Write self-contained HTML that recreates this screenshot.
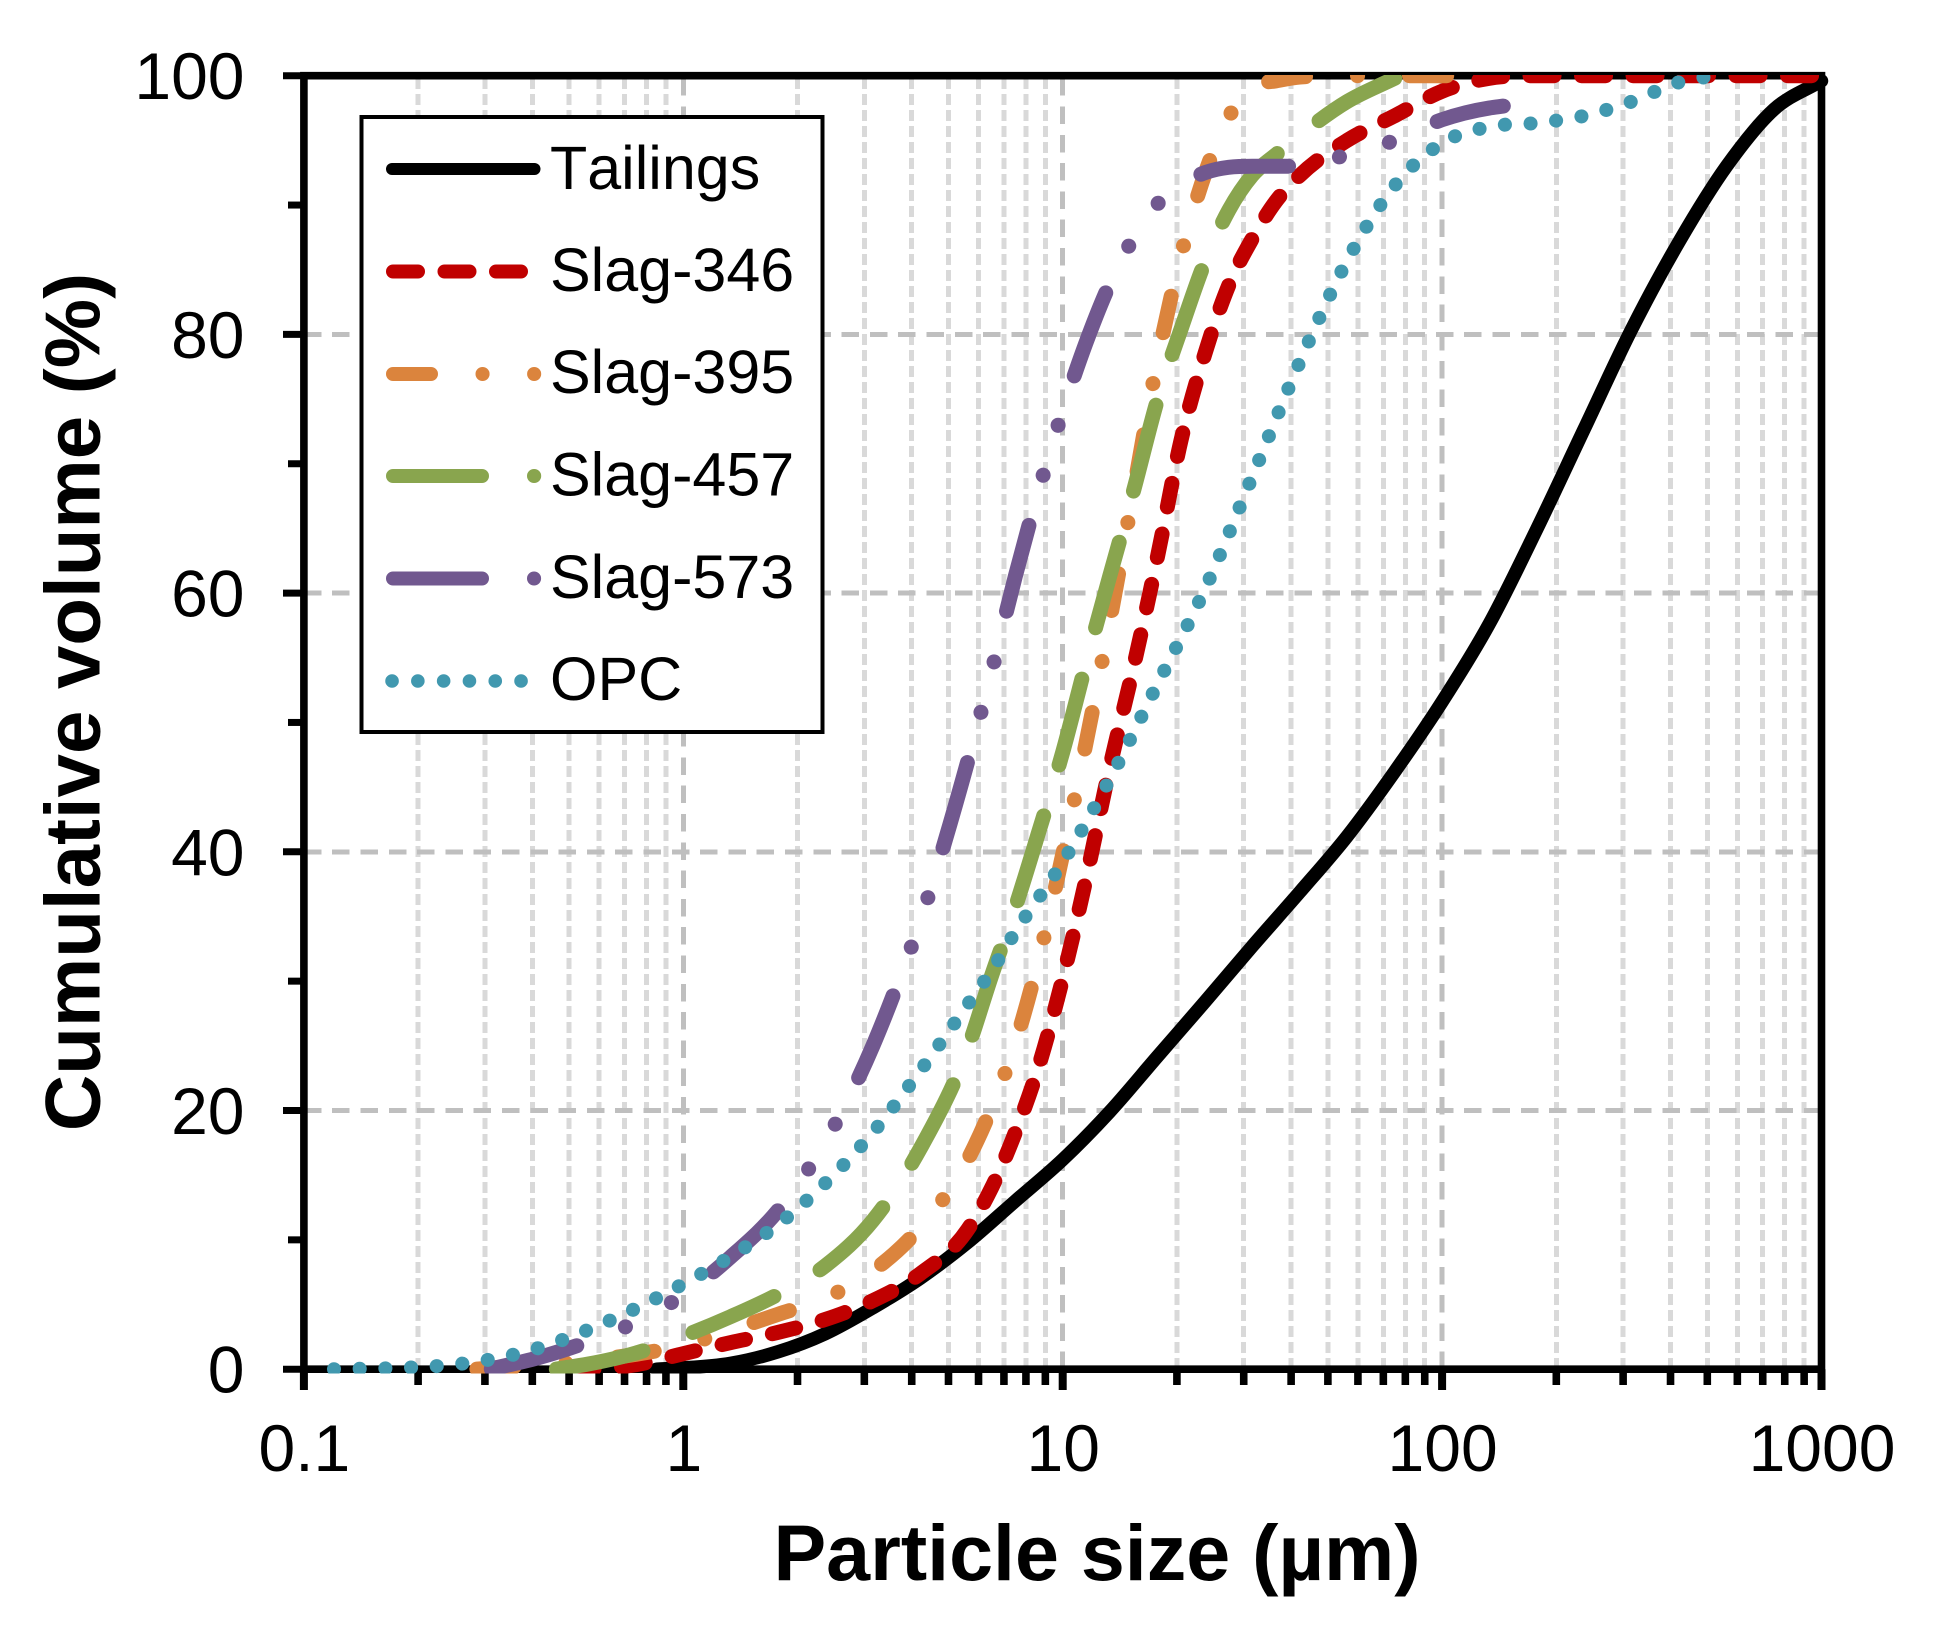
<!DOCTYPE html>
<html lang="en">
<head>
<meta charset="utf-8">
<title>Cumulative particle size distribution</title>
<style>
html,body{margin:0;padding:0;background:#fff}
svg{display:block}
text{font-family:"Liberation Sans",Arial,sans-serif;fill:#000;font-kerning:none}
</style>
</head>
<body>
<svg id="chart" width="1944" height="1634" viewBox="0 0 1944 1634" xmlns="http://www.w3.org/2000/svg">
<defs><clipPath id="plot-clip"><rect x="296" y="75" width="1534" height="1298.5"/></clipPath></defs>
<rect x="0" y="0" width="1944" height="1634" fill="#fff"/>
<g id="grid" shape-rendering="crispEdges"></g>
<g id="axes"></g>
<g id="series" clip-path="url(#plot-clip)"></g>
<text x="1097" y="1580" font-size="79" font-weight="bold" text-anchor="middle">Particle size (µm)</text>
<text x="0" y="0" transform="translate(99.5 702) rotate(-90)" font-size="78" font-weight="bold" text-anchor="middle">Cumulative volume (%)</text>
<g>
<rect x="361.5" y="117" width="461" height="615" fill="#fff" stroke="#000" stroke-width="4"/>
<g>
<line x1="392" x2="534.5" y1="169" y2="169" stroke="#000" stroke-width="12" stroke-linecap="round"/>
<text x="550" y="189" font-size="61">Tailings</text>
</g>
<g>
<line x1="393" x2="533.5" y1="271.5" y2="271.5" stroke="#C00000" stroke-width="14" stroke-linecap="round" stroke-dasharray="25 26.5"/>
<text x="550" y="291" font-size="61">Slag-346</text>
</g>
<g>
<line x1="393" x2="534.2" y1="374" y2="374" stroke="#DB843D" stroke-width="14" stroke-linecap="round" stroke-dasharray="38 51.5 0.1 51.5"/>
<text x="550" y="393" font-size="61">Slag-395</text>
</g>
<g>
<line x1="393" x2="534.2" y1="476" y2="476" stroke="#89A54E" stroke-width="14" stroke-linecap="round" stroke-dasharray="89 52"/>
<text x="550" y="495.5" font-size="61">Slag-457</text>
</g>
<g>
<line x1="393" x2="534.2" y1="578.5" y2="578.5" stroke="#71588F" stroke-width="14" stroke-linecap="round" stroke-dasharray="89 52 0.1 52 0.1 52"/>
<text x="550" y="598" font-size="61">Slag-573</text>
</g>
<g>
<line x1="392" x2="534.5" y1="681" y2="681" stroke="#4198AF" stroke-width="13.5" stroke-linecap="round" stroke-dasharray="0.1 25.7"/>
<text x="550" y="700" font-size="61">OPC</text>
</g>
</g>
</svg>
<script>
const yTicks = [0, 10, 20, 30, 40, 50, 60, 70, 80, 90, 100];
const yLabels = ["0", "20", "40", "60", "80", "100"];
const xDecades = [0.1, 1, 10, 100, 1000];
const xLabels = ["0.1", "1", "10", "100", "1000"];
const xMinorFactors = [2, 3, 4, 5, 6, 7, 8, 9];

const sizesTailings = [0.85, 1, 1.33, 1.78, 2.37, 3.16, 4.22, 5.62, 7.5, 10, 13.3, 17.8, 23.7, 31.6, 42.2, 56.2, 75, 100, 133, 178, 237, 316, 422, 562, 750, 1000];
const valuesTailings = [0, 0.1, 0.45, 1.35, 2.75, 4.75, 7.05, 9.8, 13, 16.2, 19.9, 24.2, 28.4, 32.7, 36.9, 41.2, 46.2, 51.6, 57.6, 65, 72.7, 80.4, 87.2, 93, 97.4, 99.6];

const sizes346 = [0.5, 0.562, 0.75, 1, 1.33, 1.78, 2.37, 3.16, 4.22, 5.62, 6.49, 7.5, 8.66, 10, 11.5, 13.3, 15.4, 17.8, 20.5, 23.7, 27.4, 31.6, 36.5, 42.2, 56.2, 75, 100, 133, 178, 237, 316, 422, 562, 750, 1000];
const values346 = [0, 0.02, 0.35, 1.2, 2.05, 2.85, 3.85, 5.3, 7.4, 10.8, 14, 18.3, 23.5, 30.2, 37.8, 46.5, 54.4, 62.9, 71.8, 78.5, 83.8, 87.4, 90.3, 92.3, 95, 96.9, 98.8, 99.8, 100, 100, 100, 100, 100, 100, 100];

const sizes395 = [0.284, 0.316, 0.422, 0.562, 0.75, 1, 1.33, 1.78, 2.37, 3.16, 4.22, 5.62, 6.49, 7.5, 8.66, 10, 11.5, 13.3, 15.4, 17.8, 20.5, 23.7, 27.4, 31.6, 36.5, 42.2, 56.2, 75, 100, 110];
const values395 = [0, 0.1, 0.3, 0.65, 1.15, 1.85, 3, 4.25, 5.5, 7.6, 11, 16.2, 20.2, 25.2, 31.8, 39.8, 48.3, 57.8, 68, 78.1, 86.1, 92.4, 96.8, 99.2, 99.6, 99.9, 100, 100, 100, 100];

const sizes457 = [0.46, 0.562, 0.75, 1, 1.33, 1.78, 2.37, 3.16, 4.22, 5.62, 6.49, 7.5, 8.66, 10, 11.5, 13.3, 15.4, 17.8, 20.5, 23.7, 27.4, 31.6, 36.5, 42.2, 56.2, 75];
const values457 = [0, 0.4, 1.25, 2.55, 4.05, 5.8, 8, 11.5, 17.1, 24.8, 30.4, 35.7, 41.6, 47.7, 54.5, 61.3, 68, 75, 80.4, 85.6, 89.6, 92.3, 93.9, 95.4, 98, 99.8];

const sizes573 = [0.31, 0.422, 0.562, 0.75, 1, 1.33, 1.78, 2.37, 3.16, 3.65, 4.22, 4.87, 5.62, 6.49, 7.5, 8.66, 10, 11.5, 13.3, 15.4, 17.8, 20.5, 23.7, 31.6, 42.2, 56.2, 75, 100, 133, 145];
const values573 = [0, 0.95, 2.13, 3.65, 5.75, 8.65, 12.3, 17.6, 25, 29.6, 34.7, 40.6, 47, 53.9, 61.3, 68, 74.1, 79.3, 83.9, 87.5, 90.1, 91.6, 92.5, 93, 93, 93.9, 95, 96.6, 97.5, 97.65];

const sizesOpc = [0.12, 0.133, 0.178, 0.237, 0.316, 0.422, 0.562, 0.75, 1, 1.33, 1.78, 2.37, 3.16, 4.22, 5.62, 6.49, 7.5, 10, 13.3, 17.8, 23.7, 31.6, 42.2, 56.2, 75, 100, 133, 178, 237, 316, 422, 496];
const valuesOpc = [0, 0.02, 0.1, 0.3, 0.8, 1.7, 3.05, 4.7, 6.6, 8.7, 11.2, 14.4, 18.3, 23.1, 28.2, 30.8, 33.8, 39.2, 45.6, 53, 60.3, 69, 77.9, 85.7, 91.5, 94.8, 96.05, 96.35, 96.9, 98, 99.5, 99.9];

const NS = 'http://www.w3.org/2000/svg';
const X_ONE = 683.3, X_DECADE = 379.4, Y_ZERO = 1369.2, Y_UNIT = 12.935;
function xScale(v) { return X_ONE + X_DECADE * Math.log10(v); }
function yScale(v) { return Y_ZERO - Y_UNIT * v; }
function make(tag, attrs) {
  const el = document.createElementNS(NS, tag);
  for (const k in attrs) el.setAttribute(k, attrs[k]);
  return el;
}
function curve(xs, ys) {
  const n = xs.length;
  const px = xs.map(xScale), py = ys.map(yScale);
  const d = [], m = new Array(n);
  for (let i = 0; i < n - 1; i++) d.push((py[i + 1] - py[i]) / (px[i + 1] - px[i]));
  m[0] = d[0]; m[n - 1] = d[n - 2];
  for (let i = 1; i < n - 1; i++) {
    if (d[i - 1] * d[i] <= 0) { m[i] = 0; continue; }
    const h0 = px[i] - px[i - 1], h1 = px[i + 1] - px[i];
    const mean = (h1 * d[i - 1] + h0 * d[i]) / (h0 + h1);
    const limit = 3 * Math.min(Math.abs(d[i - 1]), Math.abs(d[i]));
    m[i] = Math.sign(mean) * Math.min(Math.abs(mean), limit);
  }
  let s = 'M' + px[0].toFixed(2) + ' ' + py[0].toFixed(2);
  for (let i = 0; i < n - 1; i++) {
    const h = (px[i + 1] - px[i]) / 3;
    s += ' C' + (px[i] + h).toFixed(2) + ' ' + (py[i] + m[i] * h).toFixed(2) + ' ' +
      (px[i + 1] - h).toFixed(2) + ' ' + (py[i + 1] - m[i + 1] * h).toFixed(2) + ' ' +
      px[i + 1].toFixed(2) + ' ' + py[i + 1].toFixed(2);
  }
  return s;
}

const gridG = document.getElementById('grid');
const axesG = document.getElementById('axes');
const seriesG = document.getElementById('series');
const AX_W = 7.6;

xDecades.slice(0, -1).forEach(function (dec) {
  xMinorFactors.forEach(function (f) {
    const x = xScale(dec * f);
    const line = make('line', { x1: x, x2: x, y1: yScale(0), y2: yScale(100), stroke: '#d9d9d9', 'stroke-width': 5, 'stroke-dasharray': '11 5' });
    
    
    gridG.appendChild(line);
  });
});
xDecades.slice(1, -1).forEach(function (dec) {
  const x = xScale(dec);
  const line = make('line', { x1: x, x2: x, y1: yScale(0), y2: yScale(100), stroke: '#bfbfbf', 'stroke-width': 5, 'stroke-dasharray': '17.5 10.8' });
  
  
  gridG.appendChild(line);
});
yTicks.filter(function (t) { return t % 20 === 0 && t > 0 && t < 100; }).forEach(function (t) {
  const y = yScale(t);
  const line = make('line', { x1: xScale(0.1), x2: xScale(1000), y1: y, y2: y, stroke: '#bfbfbf', 'stroke-width': 5, 'stroke-dasharray': '17.5 10.8' });
  
  
  gridG.appendChild(line);
});

const frame = make('path', {
  d: 'M' + xScale(0.1) + ' ' + yScale(0) + ' V' + yScale(100) + ' H' + xScale(1000) + ' V' + yScale(0) + ' Z',
  fill: 'none', stroke: '#000', 'stroke-width': AX_W
});


axesG.appendChild(frame);

yTicks.forEach(function (t) {
  const major = t % 20 === 0;
  const y = yScale(t);
  const tick = make('line', { x1: major ? 283 : 288, x2: xScale(0.1), y1: y, y2: y, stroke: '#000', 'stroke-width': 7 });
  
  
  axesG.appendChild(tick);
});
yLabels.forEach(function (label) {
  const t = make('text', { x: 244.5, y: yScale(+label) + 23.5, 'font-size': 66, 'text-anchor': 'end' });
  
  
  t.textContent = label;
  axesG.appendChild(t);
});
xDecades.forEach(function (dec, i) {
  const x = xScale(dec);
  const tick = make('line', { x1: x, x2: x, y1: yScale(0), y2: 1390, stroke: '#000', 'stroke-width': 8 });
  
  
  axesG.appendChild(tick);
  const t = make('text', { x: x + 0.5, y: 1471, 'font-size': 66, 'text-anchor': 'middle' });
  
  
  t.textContent = xLabels[i];
  axesG.appendChild(t);
  if (i < xDecades.length - 1) {
    xMinorFactors.forEach(function (f) {
      const mx = xScale(dec * f);
      const minor = make('line', { x1: mx, x2: mx, y1: yScale(0), y2: 1385, stroke: '#000', 'stroke-width': 7.6 });
      
      
      axesG.appendChild(minor);
    });
  }
});

function drawSeries(name, xs, ys, color, width, dash, offset) {
  const attrs = { d: curve(xs, ys), fill: 'none', stroke: color, 'stroke-width': width, 'stroke-linecap': 'round', 'stroke-linejoin': 'round' };
  if (dash) { attrs['stroke-dasharray'] = dash; attrs['stroke-dashoffset'] = offset; }
  const path = make('path', attrs);
  
  
  seriesG.appendChild(path);
}
drawSeries('series-tailings', sizesTailings, valuesTailings, '#000', 13.5);
drawSeries('series-slag-346', sizes346, values346, '#C00000', 15, '24 27.5', -1);
drawSeries('series-slag-395', sizes395, values395, '#DB843D', 15, '37.2 52 0.1 51.9', -1);
drawSeries('series-slag-457', sizes457, values457, '#89A54E', 15, '88.7 53.2', -1);
drawSeries('series-slag-573', sizes573, values573, '#71588F', 15, '88.7 52.1 0.1 52 0.1 52', -1);
drawSeries('series-opc', sizesOpc, valuesOpc, '#4198AF', 14, '0.1 25.6', 0);
</script>
</body>
</html>
